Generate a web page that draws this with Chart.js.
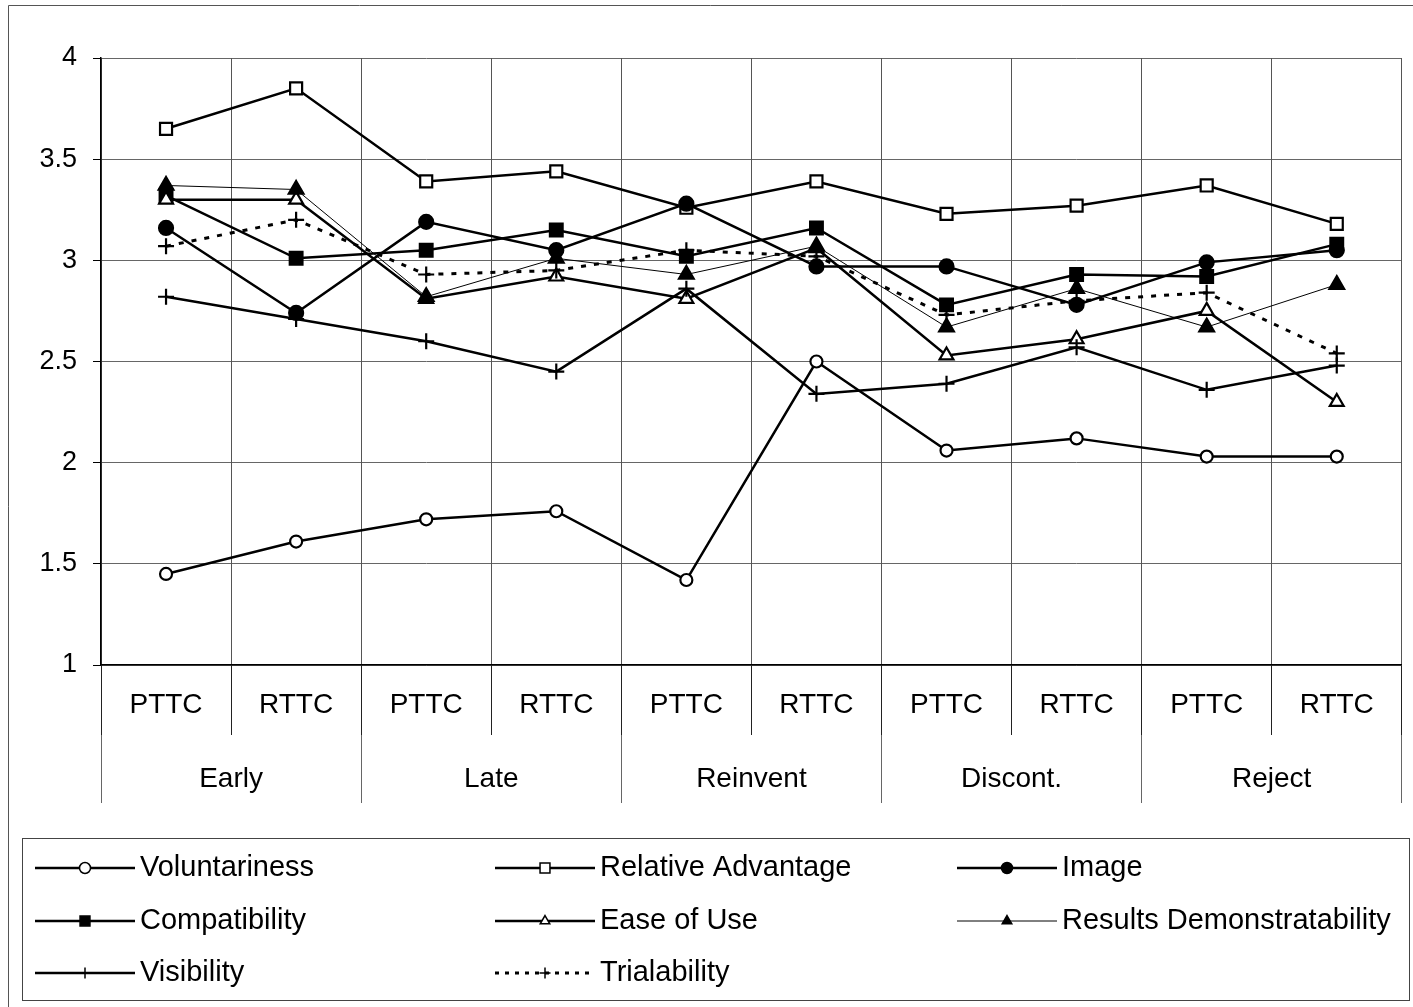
<!DOCTYPE html>
<html>
<head>
<meta charset="utf-8">
<script src="https://cdn.jsdelivr.net/npm/chart.js@4.4.1/dist/chart.umd.min.js"></script>
<style>
  html, body { margin: 0; padding: 0; background: #fff; }
  canvas { display: block; }
</style>
</head>
<body>
<canvas id="myChart" width="1413" height="1007"></canvas>
<script>
// categories
const phases = ['PTTC', 'RTTC', 'PTTC', 'RTTC', 'PTTC', 'RTTC', 'PTTC', 'RTTC', 'PTTC', 'RTTC'];
const groups = ['Early', 'Late', 'Reinvent', 'Discont.', 'Reject'];

// series values
const voluntariness = [1.45, 1.61, 1.72, 1.76, 1.42, 2.50, 2.06, 2.12, 2.03, 2.03];
const relativeAdvantage = [3.65, 3.85, 3.39, 3.44, 3.26, 3.39, 3.23, 3.27, 3.37, 3.18];
const image = [3.16, 2.74, 3.19, 3.05, 3.28, 2.97, 2.97, 2.78, 2.99, 3.05];
const compatibility = [3.32, 3.01, 3.05, 3.15, 3.02, 3.16, 2.78, 2.93, 2.92, 3.08];
const easeOfUse = [3.30, 3.30, 2.81, 2.92, 2.81, 3.06, 2.53, 2.61, 2.75, 2.30];
const resultsDemo = [3.37, 3.35, 2.82, 3.01, 2.93, 3.07, 2.67, 2.86, 2.67, 2.88];
const visibility = [2.82, 2.71, 2.60, 2.45, 2.86, 2.34, 2.39, 2.57, 2.36, 2.48];
const trialability = [3.07, 3.20, 2.93, 2.95, 3.05, 3.02, 2.73, 2.80, 2.84, 2.54];

const FONT = "'Liberation Sans', Arial, sans-serif";

const series = [
  { label: 'Voluntariness', data: voluntariness, pointStyle: 'circle', fill: '#fff', r: 6, w: 2.5 },
  { label: 'Relative Advantage', data: relativeAdvantage, pointStyle: 'rect', fill: '#fff', r: 8.5, w: 2.5 },
  { label: 'Image', data: image, pointStyle: 'circle', fill: '#000', r: 7, w: 2.5 },
  { label: 'Compatibility', data: compatibility, pointStyle: 'rect', fill: '#000', r: 9, w: 2.5 },
  { label: 'Ease of Use', data: easeOfUse, pointStyle: 'triangle', fill: '#fff', r: 8, w: 2.5 },
  { label: 'Results Demonstratability', data: resultsDemo, pointStyle: 'triangle', fill: '#000', r: 8.5, w: 1 },
  { label: 'Visibility', data: visibility, pointStyle: 'cross', fill: '#000', r: 8, w: 2.5 },
  { label: 'Trialability', data: trialability, pointStyle: 'cross', fill: '#000', r: 8, w: 3, dash: [5, 8] }
];

const datasets = series.map((s, i) => ({
  label: s.label,
  data: s.data,
  borderColor: '#000',
  borderWidth: s.w,
  borderDash: s.dash || [],
  pointStyle: s.pointStyle,
  pointRadius: s.r,
  pointBackgroundColor: s.fill,
  pointBorderColor: '#000',
  pointBorderWidth: 2.2,
  tension: 0,
  fill: false,
  order: series.length - i
}));

// legend drawn in three fixed columns, plus the outer frame
const legendBox = {
  id: 'legendBox',
  afterDraw(chart) {
    const ctx = chart.ctx;
    ctx.save();
    ctx.strokeStyle = '#444';
    ctx.lineWidth = 1;
    ctx.strokeRect(22.5, 838.5, 1387, 162);
    ctx.strokeStyle = '#555';
    ctx.beginPath();
    ctx.moveTo(8.5, 1007);
    ctx.lineTo(8.5, 5.5);
    ctx.lineTo(1413, 5.5);
    ctx.stroke();

    const colX = [35, 495, 957];
    const rowY = [868, 921, 973];
    ctx.font = '29px ' + FONT;
    ctx.textBaseline = 'middle';
    ctx.textAlign = 'left';
    series.forEach((s, i) => {
      const x = colX[i % 3];
      const y = rowY[Math.floor(i / 3)];
      ctx.strokeStyle = '#000';
      ctx.lineWidth = s.w;
      ctx.setLineDash(s.dash ? [4, 6] : []);
      ctx.beginPath();
      ctx.moveTo(x, y);
      ctx.lineTo(x + 100, y);
      ctx.stroke();
      ctx.setLineDash([]);
      ctx.fillStyle = s.fill;
      ctx.strokeStyle = '#000';
      ctx.lineWidth = 1.5;
      Chart.helpers.drawPoint(ctx, {
        pointStyle: s.pointStyle,
        radius: s.pointStyle === 'rect' ? 7 : 5.5,
        rotation: 0,
        borderWidth: 1.5
      }, x + 50, y);
      ctx.fillStyle = '#000';
      ctx.fillText(s.label, x + 105, y);
    });
    ctx.restore();
  }
};

new Chart(document.getElementById('myChart'), {
  type: 'line',
  data: { labels: phases, datasets },
  options: {
    responsive: false,
    animation: false,
    layout: { padding: { top: 58, right: 8, bottom: 204, left: 0 } },
    plugins: {
      legend: { display: false },
      tooltip: { enabled: false }
    },
    scales: {
      y: {
        min: 1,
        max: 4,
        afterFit: s => { s.width = 101; },
        ticks: {
          stepSize: 0.5,
          color: '#000',
          padding: 16,
          font: { family: FONT, size: 27 },
          callback: v => String(+v)
        },
        grid: { color: '#666', lineWidth: 1, tickLength: 8, tickColor: '#000' },
        border: { color: '#000', width: 1.5 }
      },
      x: {
        offset: true,
        afterFit: s => { s.height = 70; },
        ticks: { color: '#000', padding: -47, maxRotation: 0, autoSkip: false, font: { family: FONT, size: 28 } },
        grid: { offset: true, color: '#555', lineWidth: 1, tickLength: 70, tickColor: '#222' },
        border: { color: '#000', width: 1.5 }
      },
      x2: {
        type: 'category',
        labels: groups,
        position: 'bottom',
        offset: true,
        afterFit: s => { s.height = 68; },
        ticks: { color: '#000', padding: -41, maxRotation: 0, autoSkip: false, font: { family: FONT, size: 28 } },
        grid: { offset: true, drawOnChartArea: false, tickLength: 68, tickColor: '#666', lineWidth: 1 },
        border: { display: false }
      }
    }
  },
  plugins: [legendBox]
});
</script>
</body>
</html>
